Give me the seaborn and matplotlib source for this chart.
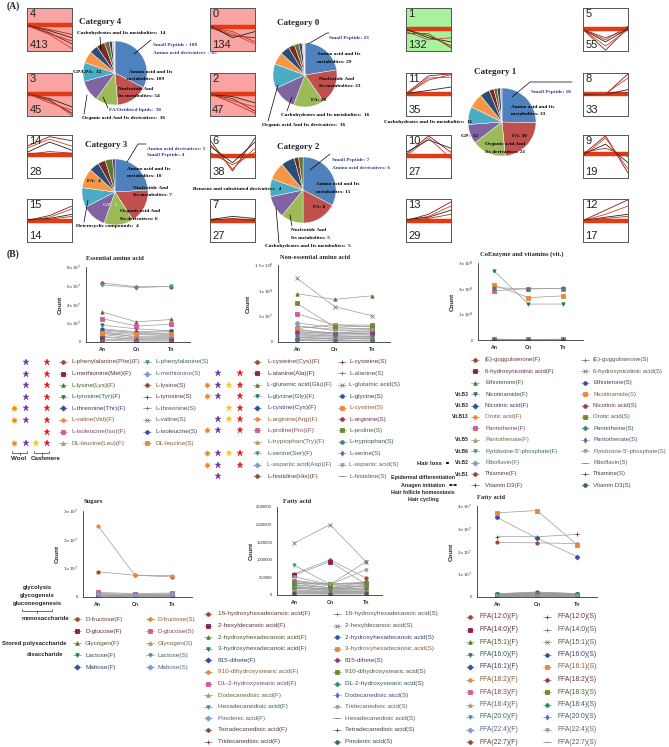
import numpy as np
import matplotlib
matplotlib.use('Agg')
import matplotlib.pyplot as plt
import matplotlib.colors as mcolors
from matplotlib.lines import Line2D
from matplotlib.patches import FancyArrowPatch
import seaborn as sns

sns.set_style('white')
plt.rcParams['font.family'] = ['Liberation Sans', 'DejaVu Sans']
plt.rcParams['mathtext.fontset'] = 'dejavusans'

W, H = 669, 747

# ---------------- panel A : cluster trend boxes ----------------
box_ids = [4, 3, 14, 15, 0, 2, 6, 7, 1, 11, 10, 13, 5, 8, 9, 12]
box_counts = [413, 45, 28, 14, 134, 47, 38, 27, 132, 35, 27, 29, 55, 33, 19, 17]
box_fill = ['#F9A3A3', '#F9A3A3', 'white', 'white', '#F9A3A3', '#F9A3A3', 'white', 'white',
            '#A8F29E', 'white', 'white', 'white', 'white', 'white', 'white', 'white']
box_band = [0.6, 0.52, 0.53, 0.5, 0.55, 0.5, 0.5, 0.5, 0.52, 0.52, 0.5, 0.5, 0.5, 0.5, 0.55, 0.5]
box_lines = [
    [[0.6, 0.42, 0.15], [0.6, 0.38, 0.04], [0.6, 0.47, 0.3], [0.6, 0.4, 0.22], [0.6, 0.5, 0.38]],
    [[0.52, 0.35, 0.05], [0.52, 0.3, 0.12], [0.52, 0.4, 0.2], [0.52, 0.38, 0.0]],
    [[0.75, 0.98, 0.88], [0.7, 0.92, 0.75], [0.6, 0.85, 0.65], [0.55, 0.62, 0.58]],
    [[0.5, 0.62, 0.85], [0.5, 0.58, 0.78], [0.52, 0.55, 0.65], [0.5, 0.53, 0.6]],
    [[0.55, 0.35, 0.3], [0.55, 0.4, 0.15], [0.6, 0.3, 0.45], [0.55, 0.45, 0.2]],
    [[0.5, 0.4, 0.1], [0.5, 0.35, 0.2], [0.5, 0.45, 0.3], [0.52, 0.3, 0.05]],
    [[0.9, 0.15, 0.95], [0.8, 0.2, 0.7], [0.75, 0.35, 0.85], [0.6, 0.3, 0.6]],
    [[0.5, 0.55, 0.5], [0.48, 0.52, 0.45], [0.52, 0.6, 0.55]],
    [[0.5, 0.35, 0.1], [0.45, 0.25, 0.3], [0.5, 0.3, 0.2], [0.4, 0.4, 0.05]],
    [[0.52, 0.95, 1.0], [0.5, 0.9, 0.92], [0.52, 0.6, 0.68], [0.5, 0.85, 0.98]],
    [[0.55, 1.0, 0.6], [0.5, 0.95, 0.45], [0.6, 0.9, 0.7]],
    [[0.5, 0.65, 0.95], [0.5, 0.6, 0.85], [0.52, 0.58, 0.75], [0.5, 0.55, 0.65]],
    [[0.5, 0.0, 0.55], [0.5, 0.1, 0.5], [0.5, 0.2, 0.52], [0.5, 0.25, 0.58], [0.5, 0.3, 0.5]],
    [[0.5, 0.5, 1.0], [0.5, 0.52, 0.9], [0.5, 0.5, 0.62], [0.48, 0.5, 0.55]],
    [[0.55, 1.0, 0.1], [0.5, 0.95, 0.2], [0.55, 0.8, 0.35], [0.6, 0.7, 0.5]],
    [[0.5, 0.75, 1.0], [0.5, 0.65, 0.85], [0.5, 0.58, 0.65], [0.5, 0.55, 0.6]],
]

# ---------------- panel A : pies ----------------
pie_titles = ['Category 4', 'Category 0', 'Category 1', 'Category 3', 'Category 2']
pie_values = [
    [109, 54, 38, 36, 32, 20, 14, 14, 8, 5, 3, 2],
    [29, 23, 20, 16, 16, 8, 6, 4, 3, 2, 1, 1],
    [33, 30, 21, 12, 11, 9, 6, 3, 2, 2, 1],
    [10, 7, 6, 5, 4, 4, 2, 1.5, 1.5, 0.5],
    [15, 8, 5, 5, 4, 4, 3, 1, 1],
]
pie_colors = ['#4F81BD', '#C0504D', '#9BBB59', '#8064A2', '#4BACC6', '#F79646',
              '#2C4D75', '#772C2A', '#5F7530', '#4D3B62', '#A6A6A6', '#D9D9D9']
BLUE = '#2E3A8C'
pie_labels = [
    [('Carbohydrates and Its metabolites:  14', 77, 33, 'k'), ('Small Peptide : 100', 153, 45, BLUE),
     ('Amino acid derivatives  : 45', 153, 53, BLUE), ('Amino acid and Its', 129, 72, 'k'),
     ('metabolites: 109', 127, 79, 'k'), ('Nucleotide And', 118, 89, 'k'),
     ('Its metabolites: 54', 118, 96, 'k'), ('FA/Oxidized lipids:  38', 109, 110, BLUE),
     ('Organic acid And Its derivatives:  36', 82, 118, 'k'), ('GP/LPA:  32', 73, 72, 'k')],
    [('Small Peptide: 23', 329, 38, BLUE), ('Amino acid and Its', 317, 54, 'k'),
     ('metabolites: 29', 317, 62, 'k'), ('Nucleotide And', 319, 79, 'k'),
     ('Its metabolites: 23', 319, 86, 'k'), ('FA: 20', 311, 100, 'k'),
     ('Carbohydrates and Its metabolites:  16', 281, 115, 'k'),
     ('Organic acid And Its derivatives:  16', 262, 125, 'k')],
    [('Small Peptide: 18', 531, 92, BLUE), ('Amino acid and Its', 511, 107, 'k'),
     ('metabolites: 33', 511, 114, 'k'), ('Carbohydrates and Its metabolites:  11', 384, 122, 'k'),
     ('GP:  12', 461, 136, 'k'), ('FA: 30', 512, 136, 'k'),
     ('Organic acid And', 485, 144, 'k'), ('Its derivatives: 21', 485, 152, 'k')],
    [('Amino acid derivatives: 5', 147, 149, BLUE), ('Small Peptide: 4', 147, 155, BLUE),
     ('Amino acid and Its', 127, 169, 'k'), ('metabolites: 10', 127, 176, 'k'),
     ('Nucleotide And', 133, 188, 'k'), ('Its metabolites: 7', 133, 195, 'k'),
     ('FA:  4', 87, 181, 'k'), ('GP:  5', 103, 205, '#DDD'),
     ('Organic acid And', 120, 211, 'k'), ('Its derivatives: 6', 120, 219, 'k'),
     ('Heterocyclic compounds:  4', 76, 226, 'k')],
    [('Small Peptide: 7', 332, 160, BLUE), ('Amino acid derivatives: 6', 332, 168, BLUE),
     ('Amino acid and Its', 316, 184, 'k'), ('metabolites: 15', 316, 192, 'k'),
     ('FA: 8', 313, 207, 'k'), ('Benzene and substituted derivatives   4', 193, 189, 'k'),
     ('Nucleotide And', 291, 230, 'k'), ('Its metabolites: 5', 291, 238, 'k'),
     ('Carbohydrates and Its metabolites:  5', 265, 246, 'k')],
]

# ---------------- panel B data ----------------
ess_F = ['L-phenylalanine(Phe)(F)', 'L-methionine(Met)(F)', 'L-lysine(Lys)(F)', 'L-tyrosine(Tyr)(F)',
         'L-threonine(Thr)(F)', 'L-valine(Val)(F)', 'L-isoleucine(Iso)(F)', 'DL-leucine(Leu)(F)']
ess_S = ['L-phenylalanine(S)', 'L-methionine(S)', 'L-lysine(S)', 'L-tyrosine(S)',
         'L-threonine(S)', 'L-valine(S)', 'L-isoleucine(S)', 'DL-leucine(S)']
ess_vals = [[6.3, 5.9, 5.9], [0.3, 0.2, 0.2], [3.2, 2.15, 2.4], [1.8, 1.4, 1.2],
            [0.6, 0.3, 0.4], [1.1, 0.5, 0.6], [2.5, 1.7, 1.9], [1.2, 0.9, 0.9],
            [6.1, 5.8, 5.95], [0.8, 0.4, 0.5], [1.3, 1.0, 1.1], [0.5, 0.3, 0.3],
            [0.2, 0.1, 0.1], [0.9, 0.6, 0.7], [1.4, 1.1, 1.2], [1.0, 0.8, 0.8]]  # x1e7
ess_stars = ['PR', 'PR', 'PR', 'PR', 'OPR', 'OPR', 'R', 'OPYR']

non_F = ['L-cysteine(Cys)(F)', 'L-alanine(Ala)(F)', 'L-glutamic acid(Glu)(F)', 'L-glycine(Gly)(F)',
         'L-cystine(Cys)(F)', 'L-arginine(Arg)(F)', 'L-proline(Pro)(F)', 'L-tryptophan(Try)(F)',
         'L-serine(Ser)(F)', 'L-aspartic acid(Asp)(F)', 'L-histidine(His)(F)']
non_S = ['L-cysteine(S)', 'L-alanine(S)', 'L-glutamic acid(S)', 'L-glycine(S)', 'L-cystine(S)',
         'L-arginine(S)', 'L-proline(S)', 'L-tryptophan(S)', 'L-serine(S)', 'L-aspartic acid(S)',
         'L-histidine(S)']
non_vals = [[2.0, 1.8, 2.2], [2.5, 1.5, 1.8], [9.4, 8.3, 9.0], [1.0, 0.5, 0.8], [0.5, 0.3, 0.4],
            [1.5, 1.2, 1.0], [5.5, 3.3, 3.3], [0.3, 0.2, 0.2], [2.3, 1.8, 2.0], [3.7, 2.8, 2.5],
            [1.8, 1.3, 1.5],
            [0.8, 0.6, 0.7], [1.2, 0.9, 1.0], [12.4, 6.9, 5.1], [3.0, 2.5, 2.6], [2.6, 3.4, 2.9],
            [1.9, 1.6, 1.7], [7.5, 2.9, 3.1], [0.4, 0.3, 0.3], [1.4, 1.1, 1.2], [3.2, 2.2, 2.4],
            [0.9, 0.7, 0.8]]  # x1e7
non_stars = ['', 'PR', 'OPYR', 'OPR', 'YR', 'PYR', 'OPR', '', 'OPYR', 'OPR', 'P']

vit_F = ['(E)-guggulsterone(F)', '6-hydroxynicotinic acid(F)', 'Ethisterone(F)', 'Nicotinamide(F)',
         'Nicotinic acid(F)', 'Orotic acid(F)', 'Pantetheine(F)', 'Pantothenate(F)',
         "Pyridoxine-5'-phosphate(F)", 'Riboflavin(F)', 'Thiamine(F)', 'Vitamin D3(F)']
vit_S = ['(E)-guggulsterone(S)', '6-hydroxynicotinic acid(S)', 'Ethisterone(S)', 'Nicotinamide(S)',
         'Nicotinic acid(S)', 'Orotic acid(S)', 'Pantetheine(S)', 'Pantothenate(S)',
         "Pyridoxine-5'-phosphate(S)", 'Riboflavin(S)', 'Thiamine(S)', 'Vitamin D3(S)']
vit_vals = [[0.02, 0.02, 0.02], [0.01, 0.01, 0.01], [0.03, 0.02, 0.02], [2.7, 1.4, 1.4],
            [0.02, 0.01, 0.02], [0.03, 0.02, 0.03], [1.92, 2.0, 2.0], [0.01, 0.01, 0.01],
            [0.02, 0.02, 0.02], [0.01, 0.01, 0.01], [0.02, 0.02, 0.02], [0.01, 0.01, 0.01],
            [0.02, 0.02, 0.02], [0.01, 0.01, 0.01], [0.02, 0.02, 0.02], [2.15, 1.65, 1.72],
            [0.03, 0.02, 0.03], [0.02, 0.02, 0.02], [2.04, 1.99, 2.01], [0.01, 0.01, 0.01],
            [0.02, 0.02, 0.02], [0.01, 0.01, 0.01], [0.02, 0.01, 0.02], [0.01, 0.01, 0.01]]  # x1e8
vit_tags = ['', '', '', 'Vit.B3', 'Vit.B3', 'Vit.B13', '', 'Vit.B5', 'Vit.B6', 'Vit.B2', 'Vit.B1', '']

sug_F = ['D-fructose(F)', 'D-glucose(F)', 'Glycogen(F)', 'Lactose(F)', 'Maltose(F)']
sug_S = ['D-fructose(S)', 'D-glucose(S)', 'Glycogen(S)', 'Lactose(S)', 'Maltose(S)']
sug_vals = [[0.88, 0.76, 0.70], [0.12, 0.10, 0.11], [0.02, 0.02, 0.02], [0.05, 0.04, 0.05],
            [0.08, 0.06, 0.07], [2.49, 0.76, 0.75], [0.16, 0.12, 0.14], [0.03, 0.03, 0.03],
            [0.06, 0.05, 0.06], [0.10, 0.08, 0.09]]  # x1e7

fa_F = ['16-hydroxyhexadecanoic acid(F)', '2-hexyldecanoic acid(F)', '2-hydroxyhexadecanoic acid(F)',
        '3-hydroxyhexadecanoic acid(F)', '815-dihete(F)', '910-dihydroxystearic acid(F)',
        'DL-2-hydroxystearic acid(F)', 'Dodecanedioic aicd(F)', 'Hexadecanedioic acid(F)',
        'Pinolenic acid(F)', 'Tetradecanedioic acid(F)', 'Tridecanedioic acid(F)']
fa_S = ['16-hydroxyhexadecanoic acid(S)', '2-hexyldecanoic acid(S)', '2-hydroxyhexadecanoic acid(S)',
        '3-hydroxyhexadecanoic acid(S)', '815-dihete(S)', '910-dihydroxystearic acid(S)',
        'DL-2-hydroxystearic acid(S)', 'Dodecanedioic aicd(S)', 'Tridecanedioic acid(S)',
        'Hexadecanedioic acid(S)', 'Tetradecanedioic acid(S)', 'Pinolenic acid(S)']
fa_vals = [[600000, 1000000, 480000], [560000, 950000, 300000], [300000, 200000, 250000],
           [250000, 150000, 200000], [200000, 120000, 150000], [150000, 100000, 120000],
           [400000, 250000, 300000], [100000, 80000, 90000], [850000, 300000, 950000],
           [50000, 40000, 45000], [350000, 200000, 380000], [180000, 150000, 160000],
           [420000, 300000, 350000], [1470000, 2000000, 940000], [280000, 210000, 270000],
           [120000, 90000, 100000], [350000, 320000, 360000], [330000, 300000, 330000],
           [220000, 180000, 200000], [60000, 50000, 60000], [520000, 300000, 720000],
           [230000, 160000, 260000], [80000, 70000, 80000], [30000, 25000, 30000]]

ffa_F = ['FFA(12:0)(F)', 'FFA(14:0)(F)', 'FFA(15:1)(F)', 'FFA(16:0)(F)', 'FFA(16:1)(F)', 'FFA(18:2)(F)',
         'FFA(18:3)(F)', 'FFA(18:4)(F)', 'FFA(20:0)(F)', 'FFA(22:4)(F)', 'FFA(22:7)(F)']
ffa_S = ['FFA(12:0)(S)', 'FFA(14:0)(S)', 'FFA(15:1)(S)', 'FFA(16:0)(S)', 'FFA(16:1)(S)', 'FFA(18:2)(S)',
         'FFA(18:3)(S)', 'FFA(18:4)(S)', 'FFA(20:0)(S)', 'FFA(22:4)(S)', 'FFA(22:7)(S)']
ffa_vals = [[2.4, 2.38, 2.35], [0.1, 0.12, 0.1], [0.15, 0.2, 0.15], [0.12, 0.18, 0.14], [3.5, 2.58, 1.78],
            [0.05, 0.06, 0.05], [0.08, 0.1, 0.08], [0.04, 0.05, 0.04], [0.12, 0.16, 0.12],
            [0.03, 0.04, 0.03], [0.02, 0.03, 0.02],
            [2.65, 2.65, 2.75], [0.1, 0.15, 0.12], [0.08, 0.12, 0.1], [0.14, 0.22, 0.15], [3.7, 3.8, 2.3],
            [0.06, 0.08, 0.06], [0.1, 0.12, 0.1], [0.12, 0.15, 0.13], [0.05, 0.06, 0.05],
            [0.04, 0.05, 0.04], [0.03, 0.03, 0.03]]  # x1e7

# prism-like symbol / colour sequence
PRISM = [('o', '#A0462B'), ('s', '#8B1F4F'), ('^', '#5F7A24'), ('v', '#1F7F5C'), ('D', '#2F4FA0'),
         ('o', '#F08536'), ('s', '#D9579A'), ('^', '#A2A05A'), ('v', '#3D9E8A'), ('D', '#7C9CD4'),
         ('o', '#8C4A38'), ('+', '#8A2E46'), ('+', '#777777'), ('x', '#777777'), ('o', '#3050A0'),
         ('s', '#F08536'), ('o', '#A03060'), ('s', '#6B8E23'), ('o', '#2E8B6E'), ('d', '#5570B0'),
         ('v', '#999999'), ('_', '#888888'), ('+', '#555555'), ('o', '#2F6B4F')]
STAR_COL = {'O': '#F08A24', 'P': '#6A2FA8', 'Y': '#F5C518', 'R': '#E8141B'}

fig = plt.figure(figsize=(6.69, 7.47), dpi=100)


def fx(x):
    return x / W


def fy(y):
    return 1 - y / H


def rect(x0, y0, x1, y1):
    return [x0 / W, 1 - y1 / H, (x1 - x0) / W, (y1 - y0) / H]


def seg(pts, color='k', lw=0.5):
    fig.add_artist(Line2D([fx(p[0]) for p in pts], [fy(p[1]) for p in pts],
                          transform=fig.transFigure, color=color, lw=lw))


def textcol(c):
    a = np.array(mcolors.to_rgb(c))
    return tuple(a * 0.45 + np.array([0.22, 0.22, 0.22]) * 0.55)


# ---- panel A boxes ----
col_x = [27, 210, 406, 583]
row_y = [8, 73, 135, 199]
for k in range(16):
    x0, y0 = col_x[k // 4], row_y[k % 4]
    ax = fig.add_axes(rect(x0, y0, x0 + 45, y0 + 43))
    ax.set_facecolor(box_fill[k])
    b = box_band[k]
    sns.lineplot(x=[0, 1, 2], y=[b, b, b], ax=ax, color='#E23A12', lw=3.2, legend=False)
    lc = ['#7A1D0E', '#D2401C', '#222222', '#B5331A', '#9C2A14']
    for j, prof in enumerate(box_lines[k]):
        sns.lineplot(x=[0, 1, 2], y=prof, ax=ax, color=lc[j % len(lc)], lw=0.6, legend=False)
    ax.set_xlim(0, 2)
    ax.set_ylim(-0.02, 1.02)
    ax.set_xticks([])
    ax.set_yticks([])
    ax.set_xlabel('')
    ax.set_ylabel('')
    for s in ax.spines.values():
        s.set_color('#555555')
        s.set_linewidth(0.7)
    ax.text(0.05, 0.97, str(box_ids[k]), transform=ax.transAxes, va='top', ha='left',
            fontsize=8, color='#222222')
    ax.text(0.05, 0.03, str(box_counts[k]), transform=ax.transAxes, va='bottom', ha='left',
            fontsize=8, color='#222222')

# ---- panel A pies ----
pie_geo = [(115, 73, 32), (305, 75, 32), (502, 122, 34), (115, 192, 33), (303, 190, 33)]
title_xy = [(100, 22), (298, 23), (495, 72), (106, 145), (298, 147)]
SERIF = ['Liberation Serif', 'DejaVu Serif']
for k in range(5):
    cx, cy, r = pie_geo[k]
    ax = fig.add_axes(rect(cx - r, cy - r, cx + r, cy + r))
    vals = pie_values[k]
    ax.pie(vals, colors=pie_colors[:len(vals)], startangle=90, counterclock=False,
           wedgeprops=dict(edgecolor='white', linewidth=0.3))
    ax.set_xlim(-1, 1)
    ax.set_ylim(-1, 1)
    ax.axis('off')
    fig.text(fx(title_xy[k][0]), fy(title_xy[k][1]), pie_titles[k], ha='center', va='center',
             fontsize=6.5, fontweight='bold', family=SERIF)

leaders = [
    [[(100, 37), (101, 50)], [(151, 40), (134, 54)], [(108, 108), (103, 97)], [(84, 114), (87, 95)]],
    [[(308, 44), (327, 33), (329, 33)], [(287, 111), (292, 97)], [(268, 121), (278, 85)]],
    [[(572, 82), (530, 82), (512, 97)]],
    [[(146, 144), (138, 144), (127, 162)], [(84, 222), (88, 200)]],
    [[(330, 154), (310, 170)], [(292, 226), (290, 215)], [(279, 243), (276, 208)]],
]
for k in range(5):
    for t, x, y, c in pie_labels[k]:
        fig.text(fx(x), fy(y), t, fontsize=3.8, fontweight='bold', family=SERIF, color=c,
                 va='center', ha='left')
    for pts in leaders[k]:
        seg(pts, 'k', 0.5)

fig.text(fx(7), fy(6), '(A)', fontsize=7, fontweight='bold', family=SERIF, va='center')
fig.text(fx(7), fy(254), '(B)', fontsize=7, fontweight='bold', family=SERIF, va='center')


# ---- panel B charts ----
def line_chart(box, xlim, ymax, ticks, ticklabels, values, scale, title, txy):
    ax = fig.add_axes(rect(*box))
    for i, vals in enumerate(values):
        m, c = PRISM[i % len(PRISM)]
        sns.lineplot(x=[0, 1, 2], y=np.array(vals) * scale, ax=ax, color='#9a9a9a', lw=0.5,
                     marker=m, ms=2.4, mfc=c, mec=c, mew=0.6, legend=False)
    ax.set_xlim(*xlim)
    ax.set_ylim(0, ymax)
    ax.set_xticks([0, 1, 2])
    ax.set_xticklabels(['An', 'Cn', 'Tn'], fontsize=3.8, fontweight='bold')
    ax.set_yticks(ticks)
    ax.set_yticklabels(ticklabels, fontsize=3.1)
    ax.set_ylabel('Count', fontsize=4.5, fontweight='bold', labelpad=2)
    ax.set_xlabel('')
    sns.despine(ax=ax)
    for s in ['left', 'bottom']:
        ax.spines[s].set_linewidth(0.6)
        ax.spines[s].set_color('#333333')
    ax.tick_params(length=2, width=0.5, pad=1.5, colors='#333333')
    ax.patch.set_alpha(0)
    fig.text(fx(txy[0]), fy(txy[1]), title, ha='center', va='center', fontsize=4.7,
             fontweight='bold', family=SERIF)
    return ax


def legend_rows(names, xm, xt, y0, dy, start=0, fs=4.6):
    for i, name in enumerate(names):
        m, c = PRISM[(start + i) % len(PRISM)]
        y = y0 + i * dy
        seg([(xm - 4, y), (xm + 4, y)], '#8c8c8c', 0.5)
        fig.add_artist(Line2D([fx(xm)], [fy(y)], transform=fig.transFigure, marker=m, ms=2.6,
                              mfc=c, mec=c, mew=0.6, ls='none'))
        fig.text(fx(xt), fy(y), name, fontsize=fs, va='center', ha='left', color=textcol(c))


def stars(flags, xs, y0, dy):
    for i, f in enumerate(flags):
        for ch in f:
            m = (8, 1, 0) if ch == 'O' else '*'
            fig.add_artist(Line2D([fx(xs[ch])], [fy(y0 + i * dy)], transform=fig.transFigure,
                                  marker=m, ms=5 if ch != 'O' else 4.2, color=STAR_COL[ch],
                                  mec=STAR_COL[ch], mew=0.3, ls='none'))


def sci(vals, exps):
    out = []
    for v, e in zip(vals, exps):
        out.append('0' if v == 0 else r'$%s{\times}10^{%d}$' % (v, e))
    return out


# Essential amino acid
line_chart((86, 267, 190, 342), (-0.46, 2.55), 8e7, [0, 2e7, 4e7, 6e7, 8e7],
           sci([0, 2, 4, 6, 8], [7] * 5), ess_vals, 1e7, 'Essential amino acid', (115, 258))
legend_rows(ess_F, 63, 72, 362, 11.6, 0)
legend_rows(ess_S, 147, 156, 362, 11.6, 8)
stars(ess_stars, {'O': 14, 'P': 26, 'Y': 36, 'R': 47}, 362, 11.6)
seg([(12, 451), (12, 453), (27, 453), (27, 451)], '#333', 0.5)
seg([(19.5, 453), (19.5, 454.5)], '#333', 0.5)
seg([(34, 451), (34, 453), (49, 453), (49, 451)], '#333', 0.5)
seg([(41.5, 453), (41.5, 454.5)], '#333', 0.5)
fig.text(fx(19), fy(459), 'Wool', fontsize=4.5, fontweight='bold', ha='center', va='center')
fig.text(fx(46), fy(459), 'Cashmere', fontsize=4.5, fontweight='bold', ha='center', va='center')

# Non-essential amino acid
line_chart((278, 265, 390, 342), (-0.51, 2.48), 1.5e8, [0, 5e7, 1e8, 1.5e8],
           ['0', r'$5{\times}10^{7}$', r'$1{\times}10^{8}$', r'$1.5{\times}10^{8}$'],
           non_vals, 1e7, 'Non-essential amino acid', (315, 257))
legend_rows(non_F, 257, 267, 362, 11.4, 0)
legend_rows(non_S, 342, 349, 362, 11.4, 11)
stars(non_stars, {'O': 207, 'P': 218, 'Y': 229, 'R': 240}, 362, 11.4)

# CoEnzyme and vitamins
line_chart((478, 263, 583, 340), (-0.46, 2.58), 3e8, [0, 1e8, 2e8, 3e8],
           sci([0, 1, 2, 3], [8] * 4), vit_vals, 1e8, 'CoEnzyme and vitamins (vit.)', (522, 254))
legend_rows(vit_F, 475, 485, 360, 11.4, 0, fs=4.3)
legend_rows(vit_S, 585, 593, 360, 11.4, 12, fs=4.3)
for i, tag in enumerate(vit_tags):
    if tag:
        fig.text(fx(469), fy(360 + i * 11.4), tag, fontsize=3.5, fontweight='bold', ha='right',
                 va='center')
fig.text(fx(442), fy(463), 'Hair loss', fontsize=4.2, fontweight='bold', ha='right', va='center')
fig.add_artist(FancyArrowPatch((fx(443), fy(463)), (fx(452), fy(463)), arrowstyle='<|-|>',
                               mutation_scale=3, lw=0.5, color='k', transform=fig.transFigure))
for j, t in enumerate(['Epidermal differentiation', 'Anagen initiation',
                       'Hair follicle homeostasis', 'Hair cycling']):
    fig.text(fx(423), fy(478 + j * 7), t, fontsize=3.9, fontweight='bold', ha='center', va='center')
fig.add_artist(FancyArrowPatch((fx(446), fy(485)), (fx(460), fy(485)), arrowstyle='<|-|>',
                               mutation_scale=3, lw=0.5, color='k', transform=fig.transFigure))

# Sugars
line_chart((83, 511, 192, 597), (-0.4, 2.54), 3e7, [0, 1e7, 2e7, 3e7],
           sci([0, 1, 2, 3], [7] * 4), sug_vals, 1e7, 'Sugars', (93, 501))
legend_rows(sug_F, 77, 85, 619, 12, 0)
legend_rows(sug_S, 150, 158, 619, 12, 5)
for j, t in enumerate(['glycolysis', 'glycogensis', 'gluconeogenesis']):
    fig.text(fx(37), fy(587 + j * 8.5), t, fontsize=4.3, fontweight='bold', ha='center', va='center')
seg([(22, 609), (22, 611), (52, 611), (52, 609)], '#333', 0.5)
seg([(37, 611), (37, 613)], '#333', 0.5)
fig.text(fx(69), fy(619), 'monosaccharide', fontsize=4.3, fontweight='bold', ha='right', va='center')
fig.text(fx(67), fy(643), 'Stored polysaccharide', fontsize=4.3, fontweight='bold', ha='right',
         va='center')
fig.text(fx(63), fy(655), 'disaccharide', fontsize=4.3, fontweight='bold', ha='right', va='center')

# Fatty acid (middle)
line_chart((277, 507, 382, 595), (-0.47, 2.44), 2.5e6,
           [0, 500000, 1000000, 1500000, 2000000, 2500000],
           ['0', '500000', '1000000', '1500000', '2000000', '2500000'],
           fa_vals, 1, 'Fatty acid', (297, 501))
legend_rows(fa_F, 208, 218, 614, 11.6, 0)
legend_rows(fa_S, 337, 345, 614, 11.6, 12)

# Fatty acid (FFA)
line_chart((477, 506, 597, 597), (-0.5, 2.5), 4e7, [0, 1e7, 2e7, 3e7, 4e7],
           sci([0, 1, 2, 3, 4], [7] * 5), ffa_vals, 1e7, 'Fatty acid', (491, 498))
legend_rows(ffa_F, 470, 479, 617, 12.5, 0, fs=4.9)
legend_rows(ffa_S, 547, 557, 617, 12.5, 11, fs=4.9)

fig.savefig('out.png', dpi=100)
